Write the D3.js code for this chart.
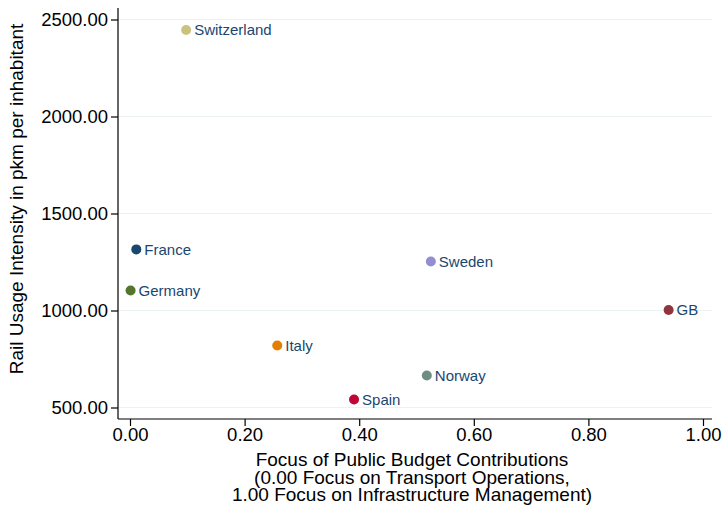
<!DOCTYPE html>
<html>
<head>
<meta charset="utf-8">
<script src="https://cdn.jsdelivr.net/npm/d3@7"></script>
<style>
  html, body { margin: 0; padding: 0; background: #fff; }
  svg { display: block; font-family: "Liberation Sans", Arial, Helvetica, sans-serif; }
</style>
</head>
<body>
<svg id="chart" width="722" height="506"></svg>
<script>
// Rail usage vs. focus of public budget contributions, by country
const countries = ["Switzerland", "France", "Germany", "Sweden", "GB", "Italy", "Norway", "Spain"];
const budgetFocus = [0.098, 0.011, 0.001, 0.525, 0.940, 0.257, 0.518, 0.391];
const railUsage = [2446, 1315, 1103, 1253, 1003, 820, 665, 541];
const markerColors = ["#cac27e", "#1a476f", "#55752f", "#938dd2", "#90353b", "#e37e00", "#6e8e84", "#c10534"];

const xTicks = [0, 0.2, 0.4, 0.6, 0.8, 1.0];
const yTicks = [500, 1000, 1500, 2000, 2500];
const xTitle = ["Focus of Public Budget Contributions",
                "(0.00 Focus on Transport Operations,",
                "1.00 Focus on Infrastructure Management)"];
const yTitle = "Rail Usage Intensity in pkm per inhabitant";

const svg = d3.select("#chart");
const plot = { left: 118, right: 712, top: 8, bottom: 419 };

const x = d3.scaleLinear().domain([0, 1]).range([130, 703]);
const y = d3.scaleLinear().domain([500, 2500]).range([407.5, 19.5]);

// horizontal grid lines
svg.append("g")
  .selectAll("line")
  .data(yTicks)
  .join("line")
  .attr("x1", plot.left)
  .attr("x2", plot.right)
  .attr("y1", d => y(d))
  .attr("y2", d => y(d))
  .attr("stroke", "#eaf2f3")
  .attr("stroke-width", 1.2);

// axes
const fmt = d3.format(".2f");
const yAxis = svg.append("g")
  .attr("transform", `translate(${plot.left},0)`)
  .call(d3.axisLeft(y).tickValues(yTicks).tickFormat(fmt).tickSize(7).tickPadding(3).tickSizeOuter(0));
yAxis.select(".domain").attr("d", `M0,${plot.top}V${plot.bottom}`);

const xAxis = svg.append("g")
  .attr("transform", `translate(0,${plot.bottom})`)
  .call(d3.axisBottom(x).tickValues(xTicks).tickFormat(fmt).tickSize(7).tickPadding(2).tickSizeOuter(0));
xAxis.select(".domain").attr("d", `M${plot.left},0H${plot.right}`);

[xAxis, yAxis].forEach(a => {
  a.select(".domain").attr("stroke", "#000").attr("stroke-width", 1.2);
  a.selectAll(".tick line").attr("stroke", "#000").attr("stroke-width", 1.2);
  a.selectAll(".tick text").attr("fill", "#000").style("font-size", "18.5px")
    .style("font-family", "'Liberation Sans', Arial, sans-serif");
});

// axis titles
svg.append("text")
  .attr("transform", `translate(23,199) rotate(-90)`)
  .attr("text-anchor", "middle")
  .attr("font-size", 19)
  .attr("fill", "#000")
  .text(yTitle);

svg.append("g")
  .selectAll("text")
  .data(xTitle)
  .join("text")
  .attr("x", 412)
  .attr("y", (d, i) => 466 + i * 17.5)
  .attr("text-anchor", "middle")
  .attr("font-size", 19)
  .attr("fill", "#000")
  .text(d => d);

// points and labels
const pts = countries.map((c, i) => ({ name: c, fx: budgetFocus[i], ry: railUsage[i], col: markerColors[i] }));

svg.append("g")
  .selectAll("circle")
  .data(pts)
  .join("circle")
  .attr("cx", d => x(d.fx))
  .attr("cy", d => y(d.ry))
  .attr("r", 5)
  .attr("fill", d => d.col);

svg.append("g")
  .selectAll("text")
  .data(pts)
  .join("text")
  .attr("x", d => x(d.fx) + 8)
  .attr("y", d => y(d.ry))
  .attr("dy", "0.35em")
  .attr("font-size", 15)
  .attr("fill", "#1a476f")
  .text(d => d.name);
</script>
</body>
</html>
